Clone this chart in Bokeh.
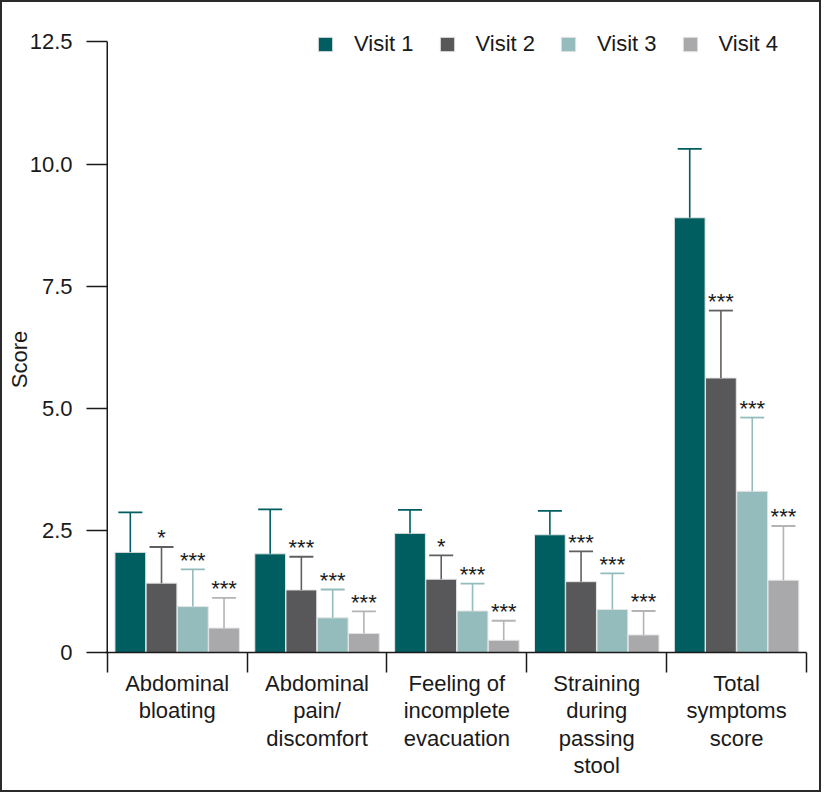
import math
from bokeh.plotting import figure
from bokeh.models import Range1d, FixedTicker, ColumnDataSource
from bokeh.core.properties import value
from bokeh.embed import file_html
from bokeh.resources import INLINE

# ---- data ----
categories = ["Abdominal\nbloating", "Abdominal\npain/\ndiscomfort",
              "Feeling of\nincomplete\nevacuation", "Straining\nduring\npassing\nstool",
              "Total\nsymptoms\nscore"]
visits = ["Visit 1", "Visit 2", "Visit 3", "Visit 4"]
visit1 = [2.05, 2.02, 2.44, 2.41, 8.90]
visit2 = [1.42, 1.28, 1.50, 1.45, 5.62]
visit3 = [0.94, 0.71, 0.85, 0.88, 3.30]
visit4 = [0.50, 0.39, 0.25, 0.36, 1.48]
visit1_sd = [0.82, 0.91, 0.48, 0.49, 1.41]
visit2_sd = [0.74, 0.68, 0.49, 0.62, 1.38]
visit3_sd = [0.76, 0.58, 0.56, 0.74, 1.51]
visit4_sd = [0.62, 0.45, 0.40, 0.49, 1.11]
visit1_sig = ["", "", "", "", ""]
visit2_sig = ["*", "***", "*", "***", "***"]
visit3_sig = ["***", "***", "***", "***", "***"]
visit4_sig = ["***", "***", "***", "***", "***"]
y_ticks = [0, 2.5, 5.0, 7.5, 10.0, 12.5]
y_tick_labels = ["0", "2.5", "5.0", "7.5", "10.0", "12.5"]
y_max = 12.5
y_title = "Score"

colors = ["#005e61", "#58585a", "#94bcbd", "#a9a9ac"]
err_colors = ["#005e61", "#606062", "#94bcbd", "#b4b4b7"]
offsets = [-0.335, -0.112, 0.112, 0.335]
FONT = "Liberation Sans"
TXT = "#1a1a1a"

# frame extends a little above 12.5 so the legend (which sits across the top) is not clipped
p = figure(width=821, height=792, output_backend="svg", toolbar_location=None,
           x_range=Range1d(-0.0125, 5), y_range=Range1d(0, 13.0),
           min_border_left=103, min_border_right=17, min_border_top=15, min_border_bottom=142)
p.styles = {"border": "2px solid #2a2a2a"}
p.grid.visible = False
p.outline_line_color = None
p.background_fill_color = "white"
p.border_fill_color = "white"

# y axis line drawn from 0 to 12.5 only
p.segment(x0=[0], y0=[0], x1=[0], y1=[y_max], line_color=TXT, line_width=1.5)

means = [visit1, visit2, visit3, visit4]
sds = [visit1_sd, visit2_sd, visit3_sd, visit4_sd]
sigs = [visit1_sig, visit2_sig, visit3_sig, visit4_sig]

for k in range(4):
    xs = [i + 0.5 + offsets[k] for i in range(len(categories))]
    tops = [m + s for m, s in zip(means[k], sds[k])]
    src = ColumnDataSource(dict(x=xs, top=means[k], up=tops, sig=sigs[k]))
    p.vbar(x="x", top="top", bottom=0, width=0.22, source=src,
           fill_color=colors[k], line_color="#e4e4e4", line_width=1,
           legend_label=visits[k])
    p.segment(x0="x", y0="top", x1="x", y1="up", source=src,
              line_color=err_colors[k], line_width=1.6)
    p.scatter(x="x", y="up", source=src, marker="dash", size=24,
              line_color=err_colors[k], line_width=1.8)
    p.text(x="x", y="up", text="sig", source=src, text_align="center",
           text_baseline="alphabetic", y_offset=-9, text_font=value(FONT),
           text_font_size="22px", text_color=TXT)

# x axis
xa = p.xaxis[0]
xa.ticker = FixedTicker(ticks=[i + 0.5 for i in range(5)], minor_ticks=[0, 1, 2, 3, 4, 5])
xa.major_label_overrides = {i + 0.5: categories[i] for i in range(5)}
xa.major_tick_out = 0
xa.major_tick_in = 0
xa.minor_tick_out = 20
xa.minor_tick_in = 0
xa.minor_tick_line_color = TXT
xa.minor_tick_line_width = 1.5
xa.axis_line_color = TXT
xa.axis_line_width = 1.5
xa.major_label_standoff = -2
xa.major_label_text_font = FONT
xa.major_label_text_font_size = "22px"
xa.major_label_text_line_height = 1.1
xa.major_label_text_color = TXT

# y axis
ya = p.yaxis[0]
ya.ticker = FixedTicker(ticks=y_ticks)
ya.major_label_overrides = {t: l for t, l in zip(y_ticks, y_tick_labels)}
ya.major_tick_out = 19
ya.major_tick_in = 2
ya.minor_tick_out = 0
ya.minor_tick_in = 0
ya.major_tick_line_color = TXT
ya.major_tick_line_width = 1.5
ya.axis_line_color = None
ya.major_label_standoff = 14
ya.major_label_text_font = FONT
ya.major_label_text_font_size = "22px"
ya.major_label_text_color = TXT
ya.axis_label = y_title + "\u00a0" * 8
ya.axis_label_standoff = -5
ya.axis_label_text_font = FONT
ya.axis_label_text_font_size = "22px"
ya.axis_label_text_font_style = "normal"
ya.axis_label_text_color = TXT

lg = p.legend[0]
lg.orientation = "horizontal"
lg.location = (211, 595)
lg.padding = 0
lg.margin = 0
lg.spacing = 24
lg.label_standoff = 20
lg.glyph_width = 18
lg.glyph_height = 18
lg.label_height = 18
lg.border_line_color = None
lg.background_fill_alpha = 0
lg.label_text_font = FONT
lg.label_text_font_size = "22px"
lg.label_text_color = TXT

open("out.html", "w").write(file_html(p, INLINE))
